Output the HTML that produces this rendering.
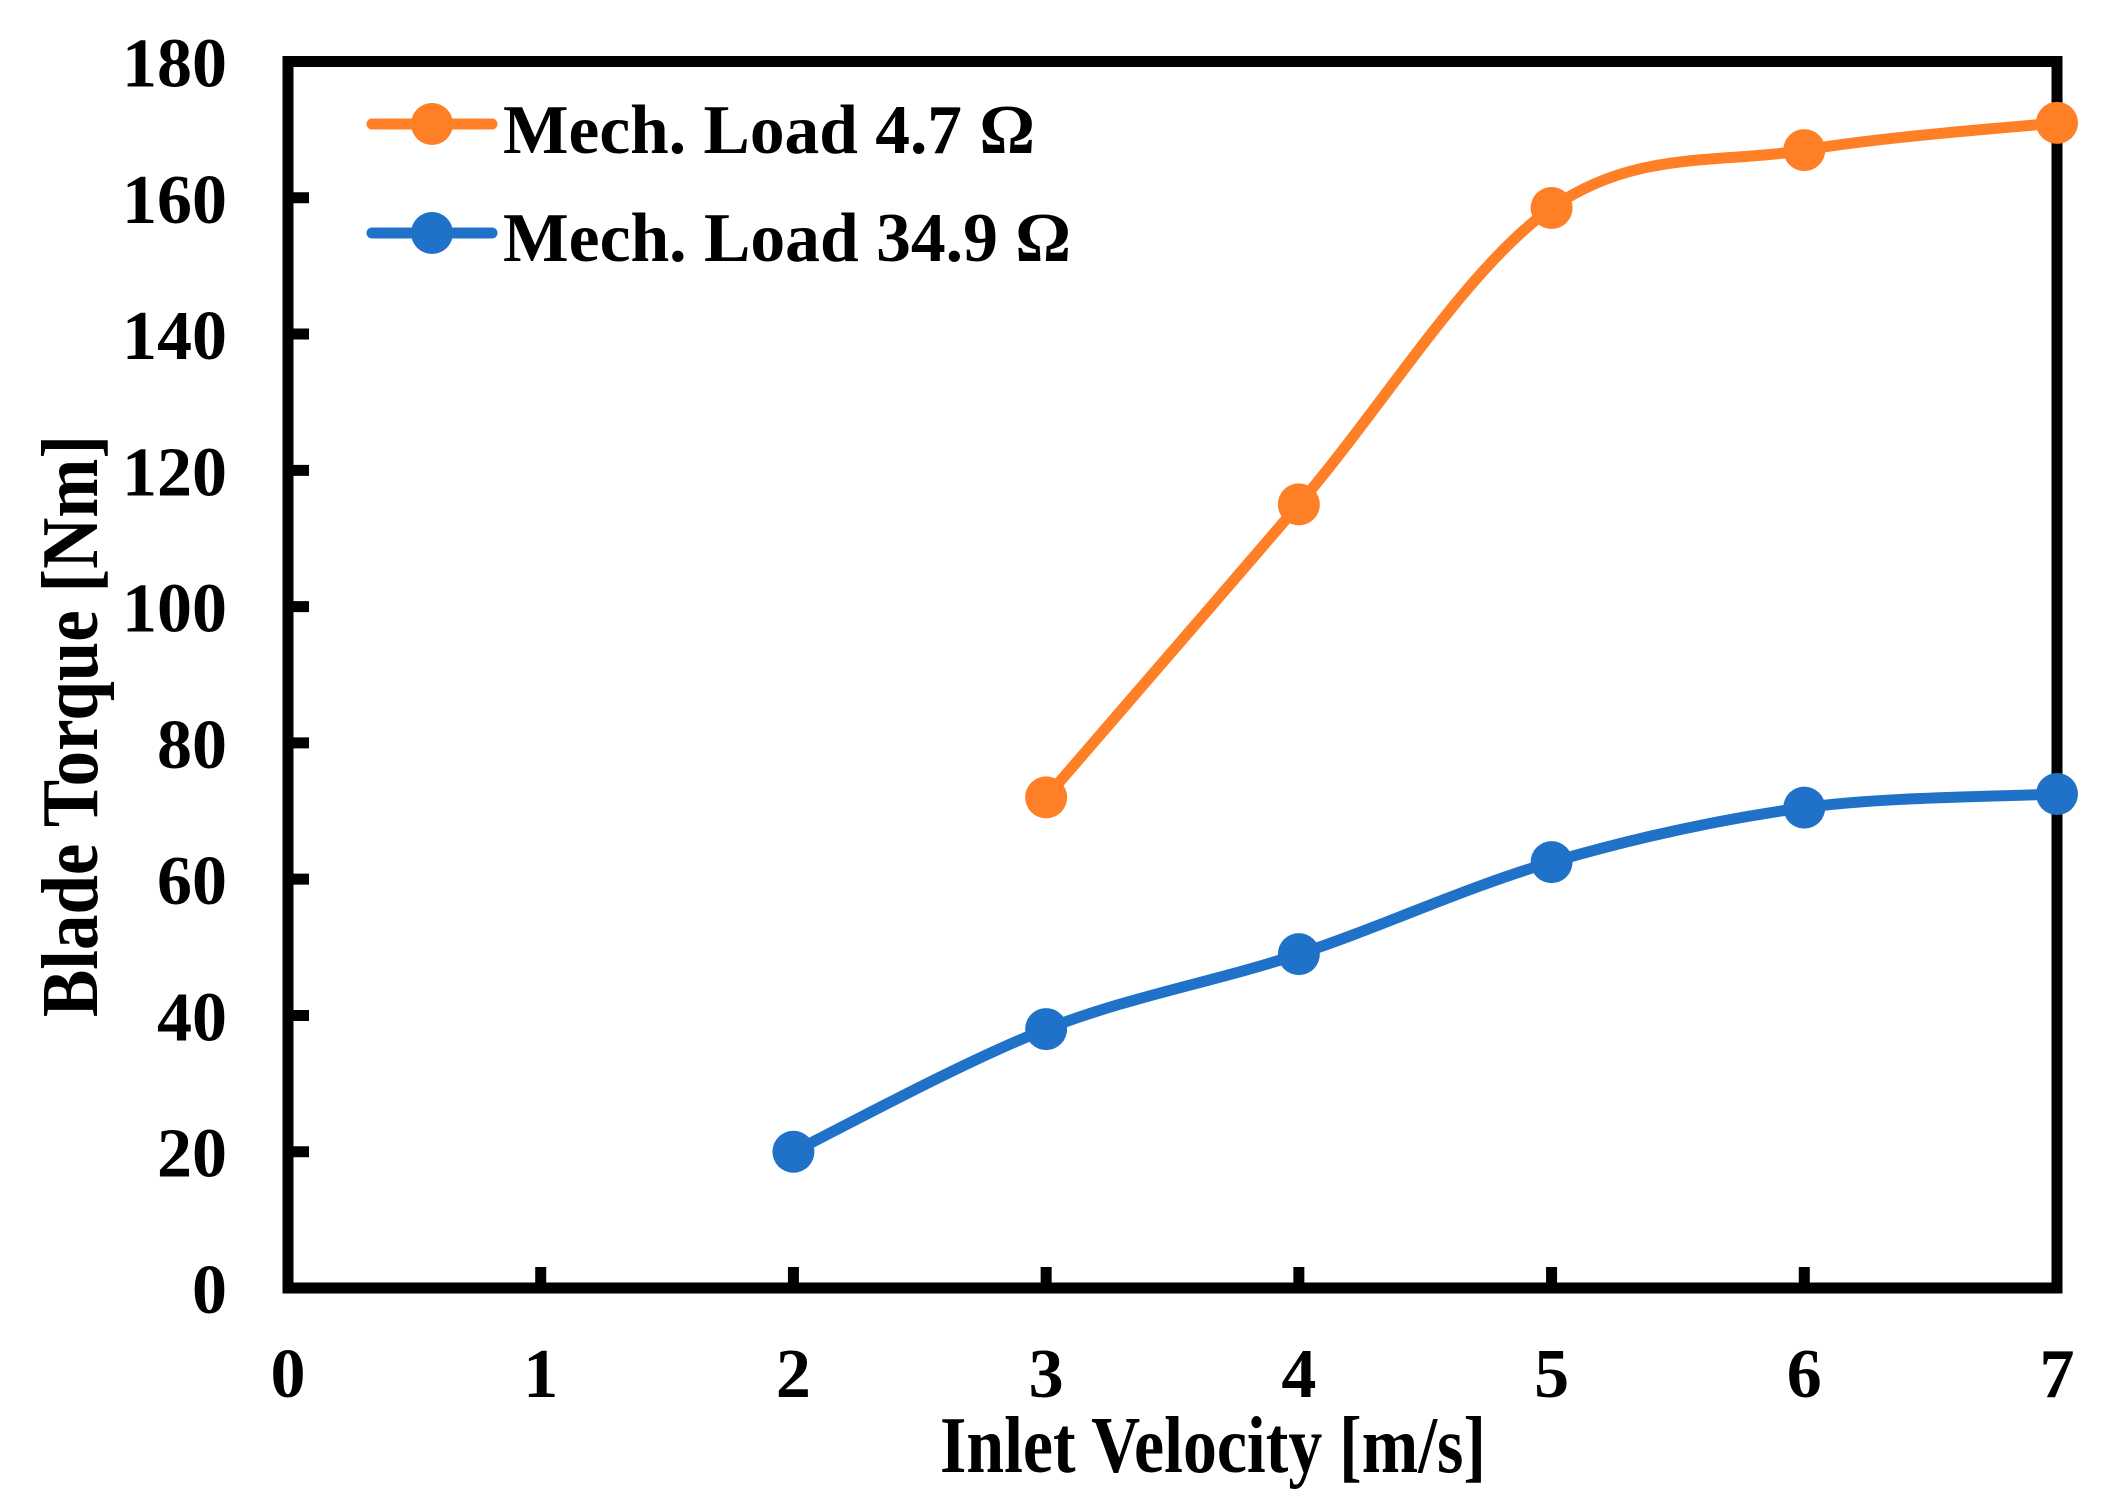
<!DOCTYPE html>
<html><head><meta charset="utf-8"><style>
html,body{margin:0;padding:0;background:#fff}
svg{display:block}
text{font-family:"Liberation Serif",serif;font-weight:bold;fill:#000}
</style></head><body>
<svg id="chart" width="2113" height="1498" viewBox="0 0 2113 1498" xmlns="http://www.w3.org/2000/svg">
<g id="axes"></g>
<g id="series"></g>
<g id="legend">
  <line x1="372" y1="124" x2="492" y2="124" stroke="#FF7F27" stroke-width="11" stroke-linecap="round"/>
  <circle cx="432" cy="124" r="21" fill="#FF7F27"/>
  <text x="503" y="153" font-size="70" textLength="532" lengthAdjust="spacingAndGlyphs">Mech. Load 4.7 Ω</text>
  <line x1="372" y1="233" x2="492" y2="233" stroke="#1F72C8" stroke-width="11" stroke-linecap="round"/>
  <circle cx="432" cy="233" r="21" fill="#1F72C8"/>
  <text x="503" y="261" font-size="70" textLength="568" lengthAdjust="spacingAndGlyphs">Mech. Load 34.9 Ω</text>
</g>
<text x="940" y="1472" font-size="80" textLength="546" lengthAdjust="spacingAndGlyphs">Inlet Velocity [m/s]</text>
<text transform="translate(97,1017) rotate(-90)" x="0" y="0" font-size="80" textLength="582" lengthAdjust="spacingAndGlyphs">Blade Torque  [Nm]</text>
</svg>
<script>
const xTicks = [0,1,2,3,4,5,6,7];
const yTicks = [0,20,40,60,80,100,120,140,160,180];
const xOrange = [3,4,5,6,7];
const yOrange = [72,115,158.5,167,171];
const xBlue = [2,3,4,5,6,7];
const yBlue = [20,38,49,62.5,70.5,72.5];

const X0=288, X1=2057, Y0=1288, Y1=61.5;
const sx = v => X0 + (v-0)/(7-0)*(X1-X0);
const sy = v => Y0 - (v-0)/(180-0)*(Y0-Y1);
const NS="http://www.w3.org/2000/svg";
const axes=document.getElementById('axes');
const series=document.getElementById('series');

const frame=document.createElementNS(NS,'rect');
frame.setAttribute('x',X0);frame.setAttribute('y',Y1);
frame.setAttribute('width',X1-X0);frame.setAttribute('height',Y0-Y1);
frame.setAttribute('fill','none');frame.setAttribute('stroke','#000');frame.setAttribute('stroke-width','11');


axes.appendChild(frame);

yTicks.forEach(v=>{
  const y=sy(v);
  if(v>0&&v<180){
    const t=document.createElementNS(NS,'line');
    t.setAttribute('x1',X0);t.setAttribute('x2',X0+21);t.setAttribute('y1',y);t.setAttribute('y2',y);
    t.setAttribute('stroke','#000');t.setAttribute('stroke-width','11');
    
    
    axes.appendChild(t);
  }
  const l=document.createElementNS(NS,'text');
  l.setAttribute('x',227);l.setAttribute('y',y+25);l.setAttribute('text-anchor','end');l.setAttribute('font-size','70');
  l.textContent=v;
  
  
  axes.appendChild(l);
});
xTicks.forEach(v=>{
  const x=sx(v);
  if(v>0&&v<7){
    const t=document.createElementNS(NS,'line');
    t.setAttribute('x1',x);t.setAttribute('x2',x);t.setAttribute('y1',Y0);t.setAttribute('y2',Y0-21);
    t.setAttribute('stroke','#000');t.setAttribute('stroke-width','11');
    
    
    axes.appendChild(t);
  }
  const l=document.createElementNS(NS,'text');
  l.setAttribute('x',x);l.setAttribute('y',1397);l.setAttribute('text-anchor','middle');l.setAttribute('font-size','70');
  l.textContent=v;
  
  
  axes.appendChild(l);
});

function smoothPath(xs,ys){
  const p=xs.map((x,i)=>[sx(x),sy(ys[i])]);
  let d='M'+p[0][0]+','+p[0][1];
  const k=0.5/3*2*0.5*2; // tension
  for(let i=0;i<p.length-1;i++){
    const p0=p[i-1]||p[i], p1=p[i], p2=p[i+1], p3=p[i+2]||p[i+1];
    const c1=[p1[0]+(p2[0]-p0[0])/6, p1[1]+(p2[1]-p0[1])/6];
    const c2=[p2[0]-(p3[0]-p1[0])/6, p2[1]-(p3[1]-p1[1])/6];
    d+=' C'+c1.join(',')+' '+c2.join(',')+' '+p2.join(',');
  }
  return d;
}
function drawSeries(xs,ys,color,name){
  const path=document.createElementNS(NS,'path');
  path.setAttribute('d',smoothPath(xs,ys));
  path.setAttribute('fill','none');path.setAttribute('stroke',color);path.setAttribute('stroke-width','11');
  path.setAttribute('stroke-linecap','round');
  
  
  series.appendChild(path);
  xs.forEach((x,i)=>{
    const c=document.createElementNS(NS,'circle');
    c.setAttribute('cx',sx(x));c.setAttribute('cy',sy(ys[i]));c.setAttribute('r','21');c.setAttribute('fill',color);
    
    
    series.appendChild(c);
  });
}
drawSeries(xOrange,yOrange,'#FF7F27','load-4-7');
drawSeries(xBlue,yBlue,'#1F72C8','load-34-9');
</script>
</body></html>
